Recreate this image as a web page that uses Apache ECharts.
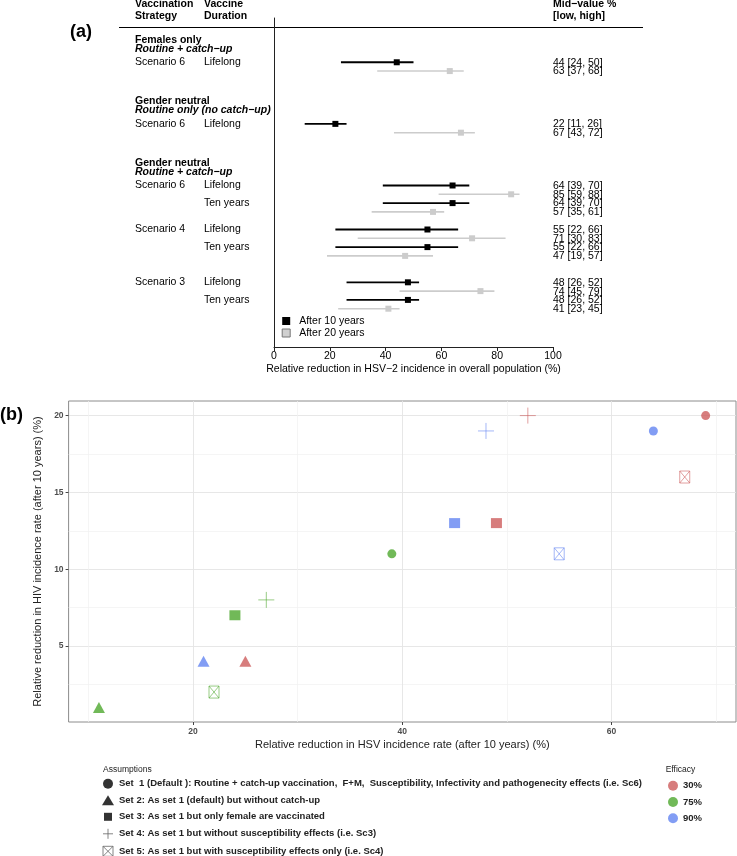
<!DOCTYPE html>
<html><head><meta charset="utf-8">
<script src="https://cdn.jsdelivr.net/npm/echarts@6/dist/echarts.min.js"></script>
<style>html,body{margin:0;padding:0;background:#fff}#c{width:737px;height:856px}</style>
</head><body><div id="c"></div><script>
// ---------- Panel (a) data ----------
const rowPos10 = [0, 7, 14, 16, 19, 21, 25, 27];
const rowPos20 = [1, 8, 15, 17, 20, 22, 26, 28];
const mid10  = [44, 22, 64, 64, 55, 55, 48, 48];
const low10  = [24, 11, 39, 39, 22, 22, 26, 26];
const high10 = [50, 26, 70, 70, 66, 66, 52, 52];
const mid20  = [63, 67, 85, 57, 71, 47, 74, 41];
const low20  = [37, 43, 59, 35, 30, 19, 45, 23];
const high20 = [68, 72, 88, 61, 83, 57, 79, 45];
const scenarioLabels = ['Scenario 6', 'Scenario 6', 'Scenario 6', '', 'Scenario 4', '', 'Scenario 3', ''];
const durationLabels = ['Lifelong', 'Lifelong', 'Lifelong', 'Ten years', 'Lifelong', 'Ten years', 'Lifelong', 'Ten years'];
const groupTitles = [['Females only', 'Routine + catch\u2212up'], ['Gender neutral', 'Routine only (no catch\u2212up)'], ['Gender neutral', 'Routine + catch\u2212up']];
const groupFirstRow = [0, 7, 14];
const seriesA = ['After 10 years', 'After 20 years'];

// ---------- Panel (b) data ----------
const setNames = [
  'Set  1 (Default ): Routine + catch-up vaccination,  F+M,  Susceptibility, Infectivity and pathogenecity effects (i.e. Sc6)',
  'Set 2: As set 1 (default) but without catch-up',
  'Set 3: As set 1 but only female are vaccinated',
  'Set 4: As set 1 but without susceptibility effects (i.e. Sc3)',
  'Set 5: As set 1 but with susceptibility effects only (i.e. Sc4)'
];
const efficacyNames = ['30%', '75%', '90%'];
// per set (1..5): HSV reduction (x) and HIV reduction (y)
const hsv30 = [69, 25, 49, 52, 67];
const hiv30 = [20, 4, 13, 20, 16];
const hsv75 = [39, 11, 24, 27, 22];
const hiv75 = [11, 1, 7, 8, 2];
const hsv90 = [64, 21, 45, 48, 55];
const hiv90 = [19, 4, 13, 19, 11];
const xTicksB = [20, 40, 60];
const xMinorB = [10, 30, 50, 70];
const yTicksB = [5, 10, 15, 20];
const yMinorB = [2.5, 7.5, 12.5, 17.5];

const FONT = '"Liberation Sans", Arial, sans-serif';
const effColors = ['#cd5c5c', '#4ea72e', '#6384f1'];
const PLUS = 'path://M0,8H16M8,0V16';
const BOXX = 'path://M0,0H10V11H0ZM0,0L10,11M10,0L0,11';

function errSeries(name, pos, lo, mid, hi, col, lw, sz) {
  return {
    type: 'custom', name, xAxisIndex: 0, yAxisIndex: 0,
    itemStyle: { color: col },
    encode: { x: [1, 2, 3], y: 0 },
    data: pos.map((p, i) => [p, lo[i], mid[i], hi[i]]),
    renderItem: (params, api) => {
      const p = api.value(0), l = api.value(1), m = api.value(2), h = api.value(3);
      const a = api.coord([l, p]), b = api.coord([h, p]), c = api.coord([m, p]), t = api.coord([100, p]);
      return { type: 'group', children: [
        { type: 'line', shape: { x1: a[0], y1: a[1], x2: b[0], y2: b[1] }, style: { stroke: col, lineWidth: lw } },
        { type: 'rect', shape: { x: c[0] - sz / 2, y: c[1] - sz / 2, width: sz, height: sz }, style: { fill: col } },
        { type: 'text', x: t[0], y: t[1] + 0.5, style: { text: m + ' [' + l + ', ' + h + ']', fill: '#000', fontSize: 10.5, fontFamily: FONT, align: 'left', verticalAlign: 'middle' } }
      ]};
    }
  };
}

const setSymbols = ['circle', 'triangle', 'rect', PLUS, BOXX];
const setSizes = [9, [12, 11], [11, 10], 16, [11, 12]];
const scatterSeries = setNames.map((nm, s) => {
  const stroke = s >= 3;
  const pts = [[hsv30[s], hiv30[s]], [hsv75[s], hiv75[s]], [hsv90[s], hiv90[s]]];
  return {
    type: 'scatter', name: nm, xAxisIndex: 1, yAxisIndex: 1,
    symbol: setSymbols[s], symbolSize: setSizes[s], symbolKeepAspect: true,
    itemStyle: stroke ? { color: 'rgba(0,0,0,0)', borderWidth: 0.9 } : {},
    data: pts.map((v, k) => ({ value: v, itemStyle: stroke ? { color: 'rgba(0,0,0,0)', borderColor: effColors[k], opacity: 0.65, borderWidth: 0.9 } : { color: effColors[k] } }))
  };
});
const effSeries = efficacyNames.map((nm, k) => ({ type: 'scatter', name: nm, xAxisIndex: 1, yAxisIndex: 1, itemStyle: { color: effColors[k] }, data: [] }));

const legendIcons = ['circle', 'triangle', 'path://M0,0M12,10M2,1H10V9H2Z', 'path://M0,6H12M6,0V12', 'path://M0,0H10V10H0ZM0,0L10,10M10,0L0,10'];

const option = {
  animation: false,
  backgroundColor: '#fff',
  textStyle: { fontFamily: FONT },
  grid: [
    { left: 274, right: 184, top: 18, bottom: 509 },
    { left: 68.6, right: 1, top: 401, bottom: 134, show: true, borderColor: '#8c8c8c', borderWidth: 1, backgroundColor: 'transparent' }
  ],
  xAxis: [
    { gridIndex: 0, type: 'value', min: 0, max: 100, interval: 20,
      axisLine: { show: true, onZero: false, lineStyle: { color: '#222', width: 1 } },
      axisTick: { show: true, length: 4, lineStyle: { color: '#222' } },
      axisLabel: { fontSize: 10.5, color: '#000', margin: 4, fontFamily: FONT },
      splitLine: { show: false },
      name: 'Relative reduction in HSV\u22122 incidence in overall population (%)', nameLocation: 'middle', nameGap: 17,
      nameTextStyle: { fontSize: 10.5, color: '#000', fontFamily: FONT } },
    { gridIndex: 1, type: 'value', min: 8.1, max: 71.9,
      axisLine: { show: false, onZero: false },
      axisTick: { show: true, length: 3, lineStyle: { color: '#444' }, customValues: xTicksB },
      axisLabel: { customValues: xTicksB, fontSize: 8.5, fontWeight: 'bold', color: '#4d4d4d', margin: 5, fontFamily: FONT },
      splitLine: { show: true, lineStyle: { color: '#e4e4e4', width: 0.9 } },
      name: 'Relative reduction in HSV incidence rate (after 10 years) (%)', nameLocation: 'middle', nameGap: 17,
      nameTextStyle: { fontSize: 11, color: '#222', fontFamily: FONT } },
    { gridIndex: 1, type: 'value', min: 8.1, max: 71.9, position: 'top',
      axisLine: { show: false, onZero: false }, axisLabel: { show: false },
      axisTick: { show: false, customValues: xMinorB },
      splitLine: { show: true, lineStyle: { color: '#f1f1f1', width: 0.7 } } }
  ],
  yAxis: [
    { gridIndex: 0, type: 'value', inverse: true, min: -5.03, max: 32.35,
      axisLine: { show: true, onZero: false, lineStyle: { color: '#222', width: 1 } },
      axisTick: { show: false }, axisLabel: { show: false }, splitLine: { show: false } },
    { gridIndex: 1, type: 'value', min: 0.05, max: 20.95,
      axisLine: { show: false, onZero: false },
      axisTick: { show: true, length: 3, lineStyle: { color: '#444' }, customValues: yTicksB },
      axisLabel: { customValues: yTicksB, fontSize: 8.5, fontWeight: 'bold', color: '#4d4d4d', margin: 5, fontFamily: FONT },
      splitLine: { show: true, lineStyle: { color: '#e4e4e4', width: 0.9 } },
      name: 'Relative reduction in HIV incidence rate (after 10 years) (%)', nameLocation: 'middle', nameGap: 21,
      nameTextStyle: { fontSize: 11, color: '#222', fontFamily: FONT } },
    { gridIndex: 1, type: 'value', min: 0.05, max: 20.95, position: 'right',
      axisLine: { show: false, onZero: false }, axisLabel: { show: false },
      axisTick: { show: false, customValues: yMinorB },
      splitLine: { show: true, lineStyle: { color: '#f1f1f1', width: 0.7 } } }
  ],
  legend: [
    { data: [ { name: seriesA[0], icon: 'rect', itemStyle: { color: '#000' } },
              { name: seriesA[1], icon: 'rect', itemStyle: { color: '#d0d0d0', borderColor: '#777', borderWidth: 1 } } ],
      orient: 'vertical', left: 281.7, top: 315, padding: 0, itemWidth: 8, itemHeight: 8, itemGap: 0, selectedMode: false,
      textStyle: { fontSize: 10.5, color: '#000', lineHeight: 12, padding: [0, 0, 0, 4], fontFamily: FONT } },
    { data: setNames.map((nm, s) => ({ name: nm, icon: legendIcons[s],
        itemStyle: s >= 3 ? { color: 'rgba(0,0,0,0)', borderColor: '#666', borderWidth: 1 } : { color: '#000', borderWidth: 0 } })),
      orient: 'vertical', left: 102, top: 778.8, padding: 0, height: 80, width: 560, itemWidth: 12, itemHeight: 10, itemGap: 6.5, selectedMode: false,
      textStyle: { fontSize: 9.5, fontWeight: 'bold', color: '#222', lineHeight: 10, fontFamily: FONT } },
    { data: efficacyNames.map(nm => ({ name: nm, icon: 'circle' })),
      orient: 'vertical', left: 668, top: 780.7, padding: 0, height: 60, itemWidth: 10, itemHeight: 10, itemGap: 6.3, selectedMode: false,
      textStyle: { fontSize: 9.5, fontWeight: 'bold', color: '#222', lineHeight: 10, fontFamily: FONT } }
  ],
  series: [
    errSeries(seriesA[1], rowPos20, low20, mid20, high20, '#cccccc', 1.6, 6),
    errSeries(seriesA[0], rowPos10, low10, mid10, high10, '#000000', 1.8, 6)
  ].concat(scatterSeries, effSeries)
};

const chart = echarts.init(document.getElementById('c'), null, { renderer: 'canvas' });
chart.setOption(option);

function txt(x, y, text, st) {
  return { type: 'text', x, y, silent: true,
    style: Object.assign({ text, fill: '#000', fontSize: 10.5, fontFamily: FONT, align: 'left', verticalAlign: 'middle' }, st || {}) };
}
const py = p => chart.convertToPixel({ yAxisIndex: 0 }, p);
const g = [];
const B = { fontWeight: 'bold' };
g.push(txt(135, 4.5, 'Vaccination', B), txt(135, 16, 'Strategy', B));
g.push(txt(204, 4.5, 'Vaccine', B), txt(204, 16, 'Duration', B));
g.push(txt(553, 4.5, 'Mid\u2212value %', B), txt(553, 16, '[low, high]', B));
g.push({ type: 'line', silent: true, shape: { x1: 119, y1: 27.5, x2: 643, y2: 27.5 }, style: { stroke: '#000', lineWidth: 1 } });
g.push(txt(70, 32.5, '(a)', { fontWeight: 'bold', fontSize: 18 }));
g.push(txt(0, 415.5, '(b)', { fontWeight: 'bold', fontSize: 18 }));
groupTitles.forEach((gt, k) => {
  const base = groupFirstRow[k];
  g.push(txt(135, py(base - 2.55), gt[0], B));
  g.push(txt(135, py(base - 1.52), gt[1], { fontWeight: 'bold', fontStyle: 'italic' }));
});
rowPos10.forEach((p, i) => {
  if (scenarioLabels[i]) g.push(txt(135, py(p), scenarioLabels[i]));
  g.push(txt(204, py(p), durationLabels[i]));
});
g.push(txt(103, 770, 'Assumptions', { fontSize: 8.5, fill: '#222' }));
g.push(txt(665.7, 770, 'Efficacy', { fontSize: 8.5, fill: '#222' }));
chart.setOption({ graphic: { elements: g } });
</script></body></html>
